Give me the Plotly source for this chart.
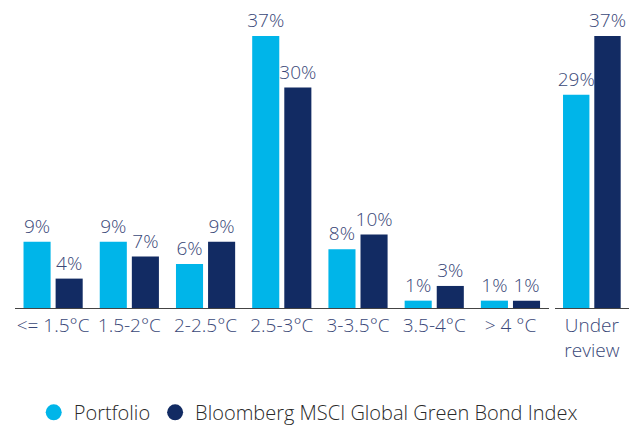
import plotly.graph_objects as go

categories = ["<= 1.5°C", "1.5-2°C", "2-2.5°C", "2.5-3°C", "3-3.5°C", "3.5-4°C", "> 4 °C"]
portfolio = [9, 9, 6, 37, 8, 1, 1]
index_vals = [4, 7, 9, 30, 10, 3, 1]
review_cat = ["Under<br>review"]
review_portfolio = [29]
review_index = [37]

C_PORT = "#00B5E9"
C_IDX = "#122B63"
TXT = "#3A4878"
FONT = "Open Sans"
FS = 19

fig = go.Figure()
def add_bars(x, y, color, xa, name):
    fig.add_trace(go.Bar(x=x, y=y, marker=dict(color=color, line=dict(width=0)),
                         text=[f"{v}%" for v in y], textposition="outside",
                         constraintext="none",
                         textfont=dict(size=FS, color=TXT, family=FONT, weight=300),
                         cliponaxis=False, showlegend=False, xaxis=xa, yaxis="y", name=name))

add_bars(categories, portfolio, C_PORT, "x", "Portfolio")
add_bars(categories, index_vals, C_IDX, "x", "Bloomberg MSCI Global Green Bond Index")
add_bars(review_cat, review_portfolio, C_PORT, "x2", "Portfolio")
add_bars(review_cat, review_index, C_IDX, "x2", "Bloomberg MSCI Global Green Bond Index")

for name, color in [("Portfolio", C_PORT), ("Bloomberg MSCI Global Green Bond Index", C_IDX)]:
    fig.add_trace(go.Scatter(x=[None], y=[None], mode="markers", name=name,
                             marker=dict(symbol="circle", size=19, color=color),
                             xaxis="x", yaxis="y"))

axis_common = dict(showline=True, linecolor="#444444", linewidth=1, ticks="",
                   tickfont=dict(size=FS, color=TXT, family=FONT, weight=300), showgrid=False)
fig.update_layout(
    width=629, height=428,
    margin=dict(l=15, r=0, t=14, b=120, autoexpand=False),
    plot_bgcolor="white", paper_bgcolor="white",
    barmode="group", bargap=0.158, bargroupgap=0.156,
    font=dict(family=FONT, color=TXT),
    xaxis=dict(domain=[0, 0.869], automargin=False, **axis_common),
    xaxis2=dict(domain=[0.879, 1], anchor="y", automargin=False, **axis_common),
    yaxis=dict(range=[0, 40], visible=False),
    legend=dict(orientation="h", x=0.49, xref="container", xanchor="center",
                y=-0.355, yref="paper", yanchor="middle",
                font=dict(size=20, color="#2A2A2A", family=FONT, weight=300), itemwidth=30),
)
fig.write_html("out.html")
